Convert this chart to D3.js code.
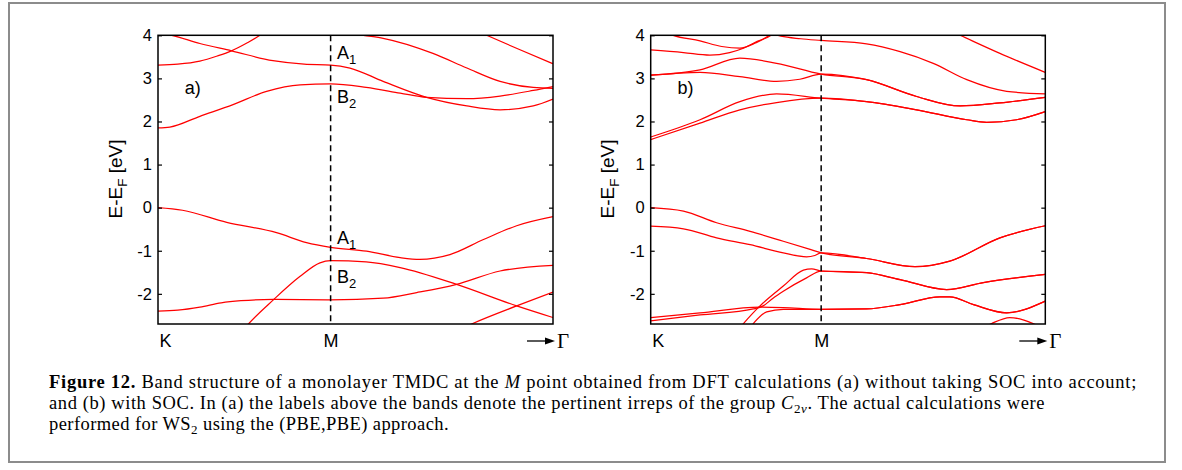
<!DOCTYPE html>
<html>
<head>
<meta charset="utf-8">
<script src="https://cdn.jsdelivr.net/npm/d3@7/dist/d3.min.js"></script>
<style>
  html, body { margin: 0; padding: 0; background: #fff; }
  svg { display: block; }
</style>
</head>
<body>
<svg id="fig" width="1182" height="470"></svg>
<script>
// ---------- DATA (x = % of path K..end, E in eV) ----------
const yTicks = [-2, -1, 0, 1, 2, 3, 4];
const kLabels = ["K", "M"];
const mPosA = 43.7;
const mPosB = 43.2;

// panel a) without SOC
const aC1 = [[0,4.06],[3.5,4.0],[10.6,3.81],[18.6,3.64],[29.1,3.41],[37,3.33],[43.7,3.31],[48.6,3.24],[57.0,2.93],[68.0,2.56],[78.2,2.36],[86.6,2.27],[95,2.36],[100,2.52]];
const aC2 = [[0,3.31],[5,3.33],[10.6,3.40],[15,3.52],[18.6,3.64],[22.5,3.82],[25.8,4.0],[27,4.08]];
const aC3 = [[0,1.85],[3,1.87],[10.6,2.12],[19,2.39],[27.5,2.70],[36,2.85],[43.7,2.87],[52.7,2.79],[61.3,2.66],[68,2.56],[78.2,2.53],[86.6,2.59],[95,2.72],[100,2.81]];
const aC4 = [[47,4.08],[52,4.0],[57,3.93],[69.6,3.58],[78.2,3.24],[86.6,2.93],[95,2.79],[100,2.77]];
const aC5 = [[80,4.13],[83.2,4.0],[91.5,3.67],[100,3.34]];
const aV1 = [[0,0],[6.2,-0.06],[17.4,-0.34],[30.0,-0.58],[37.6,-0.81],[43.7,-0.92],[52.8,-1.01],[61.3,-1.16],[66.3,-1.20],[73.9,-1.09],[82.4,-0.74],[90.8,-0.42],[100,-0.21]];
const aV2 = [[21.5,-2.85],[22.9,-2.7],[29.2,-2.14],[35.9,-1.60],[41.0,-1.28],[43.7,-1.23],[52.7,-1.26],[61.3,-1.39],[75.6,-1.78],[90.8,-2.28],[100,-2.55]];
const aV3 = [[0,-2.40],[5,-2.38],[10.6,-2.31],[16,-2.21],[21,-2.16],[29.2,-2.13],[43.7,-2.14],[57,-2.10],[65.5,-1.97],[75.6,-1.78],[86.6,-1.47],[100,-1.34]];
const aV4 = [[77,-2.8],[79.4,-2.7],[90.8,-2.28],[100,-1.96]];

// panel b) with SOC
const bC1 = [[0,1.64],[12.5,2.04],[22.6,2.46],[31.9,2.64],[43.2,2.54],[54.7,2.46],[67.4,2.27],[80.1,2.04],[85.1,1.98],[92.7,2.04],[100,2.23]];
const bC2 = [[0,1.58],[12.5,1.96],[22.6,2.27],[31.9,2.44],[43.2,2.54],[54.7,2.46],[67.4,2.27],[80.1,2.04],[85.1,1.98],[92.7,2.04],[100,2.23]];
const bC3 = [[0,3.08],[12.5,3.20],[22.6,3.47],[31.9,3.35],[43.2,3.10],[54.7,2.97],[67.4,2.58],[78.4,2.36],[88.5,2.43],[100,2.56]];
const bC4 = [[0,3.07],[12.5,3.14],[22.6,3.04],[31.9,2.93],[37.8,2.98],[43.2,3.10],[54.7,2.97],[67.4,2.58],[78.4,2.36],[88.5,2.43],[100,2.56]];
const bC5 = [[3,4.1],[5.7,4.0],[12.5,3.87],[18,3.74],[22.6,3.70],[26.5,3.82],[30,4.0],[31,4.08]];
const bC6 = [[0,3.66],[8.3,3.60],[15,3.54],[20,3.60],[23.5,3.70],[27,3.86],[30.5,4.0],[31.5,4.08]];
const bC7 = [[31,4.03],[33,3.98],[38,3.92],[43.2,3.88],[54.7,3.80],[63.2,3.62],[71.6,3.35],[80.1,2.97],[90.2,2.70],[100,2.64]];
const bC8 = [[76,4.1],[78.4,4.0],[88.5,3.58],[100,3.14]];
const bV1 = [[0,0],[8.3,-0.08],[16.7,-0.35],[25.2,-0.55],[33.6,-0.78],[40.4,-0.97],[43.2,-1.05],[54.7,-1.18],[67,-1.37],[75.8,-1.24],[88.5,-0.70],[100,-0.42]];
const bV2 = [[0,-0.43],[8.3,-0.49],[16.7,-0.70],[25.2,-0.86],[33.6,-1.05],[39.5,-1.14],[41.6,-1.11],[43.2,-1.05],[54.7,-1.18],[67,-1.37],[75.8,-1.24],[88.5,-0.70],[100,-0.42]];
const bV3 = [[0,-2.55],[12.5,-2.44],[27.7,-2.31],[33.6,-2.32],[43.2,-2.36],[54.7,-2.35],[63.2,-2.25],[73.3,-2.07],[75.8,-2.07],[81.8,-2.25],[90.2,-2.44],[100,-2.17]];
const bV4 = [[0,-2.63],[12.5,-2.49],[26,-2.35],[28.5,-2.28],[31,-2.10],[33.6,-1.94],[39.5,-1.63],[43.2,-1.47],[54.7,-1.51],[63.2,-1.67],[75,-1.90],[84.3,-1.74],[100,-1.55]];
const bV5 = [[22,-2.85],[23.5,-2.69],[27.7,-2.28],[33.6,-1.82],[38.7,-1.45],[40.8,-1.42],[43.2,-1.47],[54.7,-1.51],[63.2,-1.67],[75,-1.90],[84.3,-1.74],[100,-1.55]];
const bV6 = [[25,-2.8],[26,-2.69],[29.4,-2.42],[33.6,-2.36],[43.2,-2.36],[54.7,-2.35],[63.2,-2.25],[73.3,-2.07],[75.8,-2.07],[81.8,-2.25],[90.2,-2.44],[100,-2.17]];
const bV7 = [[84,-2.8],[86.4,-2.69],[91,-2.55],[96.9,-2.69],[98.5,-2.76]];

const bandsA = [aC1, aC2, aC3, aC4, aC5, aV1, aV2, aV3, aV4];
const bandsB = [bC1, bC2, bC3, bC4, bC5, bC6, bC7, bC8, bV1, bV2, bV3, bV4, bV5, bV6, bV7];

// ---------- DRAW ----------
const svg = d3.select("#fig");
const SANS = "'Liberation Sans', Arial, Helvetica, sans-serif";
const SERIF = "'Liberation Serif', 'Times New Roman', serif";

// outer frame
svg.append("rect").attr("x", 9).attr("y", 3).attr("width", 1156).attr("height", 459)
  .attr("fill", "none").attr("stroke", "#8c8c8c").attr("stroke-width", 2);

const plotTop = 35.3, plotBottom = 324;
const y = d3.scaleLinear().domain([-2.7, 4]).range([plotBottom, plotTop]);

function panel(id, left, right, bands, mPos, tag, yLabelX, labels) {
  const x = d3.scaleLinear().domain([0, 100]).range([left, right]);
  const g = svg.append("g");

  g.append("clipPath").attr("id", "clip" + id)
    .append("rect").attr("x", left).attr("y", plotTop).attr("width", right - left).attr("height", plotBottom - plotTop);

  // bands
  const line = d3.line().x(d => x(d[0])).y(d => y(d[1])).curve(d3.curveMonotoneX);
  g.append("g").attr("clip-path", `url(#clip${id})`)
    .selectAll("path").data(bands).join("path")
    .attr("d", line).attr("fill", "none").attr("stroke", "#ff0000").attr("stroke-width", 1.25);

  // dashed M line
  g.append("line").attr("x1", x(mPos)).attr("x2", x(mPos)).attr("y1", plotTop).attr("y2", plotBottom)
    .attr("stroke", "#000").attr("stroke-width", 1.5).attr("stroke-dasharray", "6,4");

  // left axis
  const ax = g.append("g").attr("transform", `translate(${left},0)`)
    .call(d3.axisLeft(y).tickValues(yTicks).tickSize(-4).tickPadding(6).tickFormat(d => String(d)));
  ax.select(".domain").remove();
  ax.selectAll("line").attr("stroke", "#000").attr("stroke-width", 1.2);
  ax.selectAll("text").attr("font-family", SANS).attr("font-size", 16.5).attr("fill", "#000");

  // right axis (ticks only)
  const axr = g.append("g").attr("transform", `translate(${right},0)`)
    .call(d3.axisRight(y).tickValues(yTicks).tickSize(-4).tickFormat(""));
  axr.select(".domain").remove();
  axr.selectAll("line").attr("stroke", "#000").attr("stroke-width", 1.2);

  // bottom labels
  const axb = g.append("g").attr("transform", `translate(0,${plotBottom})`)
    .call(d3.axisBottom(x).tickValues([0, mPos]).tickSize(0).tickPadding(10).tickFormat((d, i) => kLabels[i]));
  axb.select(".domain").remove();
  axb.selectAll("text").attr("font-family", SANS).attr("font-size", 18).attr("fill", "#000");
  axb.select(".tick text").attr("text-anchor", "start").attr("x", 1);

  // frame
  g.append("rect").attr("x", left).attr("y", plotTop).attr("width", right - left).attr("height", plotBottom - plotTop)
    .attr("fill", "none").attr("stroke", "#000").attr("stroke-width", 1.5);

  // -> Gamma
  const ay = plotBottom + 17;
  g.append("line").attr("x1", right - 26).attr("x2", right - 2).attr("y1", ay).attr("y2", ay)
    .attr("stroke", "#000").attr("stroke-width", 1.3);
  g.append("path").attr("d", `M${right + 2},${ay} L${right - 8},${ay - 3.5} L${right - 8},${ay + 3.5} Z`).attr("fill", "#000");
  g.append("text").attr("x", right + 4).attr("y", ay + 7).attr("font-family", SERIF).attr("font-size", 21)
    .attr("fill", "#000").text("Γ");

  // y label
  const yl = g.append("text").attr("transform", `translate(${yLabelX},${179}) rotate(-90)`)
    .attr("text-anchor", "middle").attr("font-family", SANS).attr("font-size", 19).attr("fill", "#000");
  yl.append("tspan").text("E-E");
  yl.append("tspan").attr("font-size", 13.5).attr("dy", 4.5).text("F");
  yl.append("tspan").attr("dy", -4.5).text(" [eV]");

  // panel tag
  g.append("text").attr("x", x(tag.x)).attr("y", y(tag.e)).attr("font-family", SANS).attr("font-size", 18)
    .attr("fill", "#000").text(tag.t);

  // irreps labels
  labels.forEach(l => {
    const t = g.append("text").attr("x", x(l.x)).attr("y", y(l.e)).attr("font-family", SANS)
      .attr("font-size", 18).attr("fill", "#000");
    t.append("tspan").text(l.t);
    t.append("tspan").attr("font-size", 13).attr("dy", 5).text(l.s);
  });
}

const irrepLabels = [
  { t: "A", s: "1", x: 45.3, e: 3.44 },
  { t: "B", s: "2", x: 45.3, e: 2.42 },
  { t: "A", s: "1", x: 45.3, e: -0.84 },
  { t: "B", s: "2", x: 45.3, e: -1.74 }
];
panel("A", 158, 553, bandsA, mPosA, { t: "a)", x: 6.8, e: 2.63 }, 122, irrepLabels);
panel("B", 650.7, 1045.3, bandsB, mPosB, { t: "b)", x: 6.8, e: 2.63 }, 614, []);

// ---------- CAPTION ----------
const cap = svg.append("g").attr("font-family", SERIF).attr("font-size", 18.5).attr("fill", "#000");
function capLine(yb, parts, target) {
  const t = cap.append("text").attr("x", 49).attr("y", yb);
  parts.forEach(p => {
    const s = t.append("tspan").text(p.t);
    if (p.b) s.attr("font-weight", "bold");
    if (p.i) s.attr("font-style", "italic");
    if (p.small) s.attr("font-size", 13);
    if (p.dy) s.attr("dy", p.dy);
  });
  const n = t.text().length;
  const w = t.node().getComputedTextLength();
  t.attr("letter-spacing", ((target - w) / n).toFixed(3));
}
capLine(388, [
  { t: "Figure 12.", b: true },
  { t: " Band structure of a monolayer TMDC at the " },
  { t: "M", i: true },
  { t: " point obtained from DFT calculations (a) without taking SOC into account;" }
], 1088);
capLine(409, [
  { t: "and (b) with SOC. In (a) the labels above the bands denote the pertinent irreps of the group " },
  { t: "C", i: true },
  { t: "2", small: true, dy: 4 },
  { t: "v", small: true, i: true },
  { t: ". The actual calculations were", dy: -4 }
], 996);
capLine(430, [
  { t: "performed for WS" },
  { t: "2", small: true, dy: 4 },
  { t: " using the (PBE,PBE) approach.", dy: -4 }
], 400);
</script>
</body>
</html>
